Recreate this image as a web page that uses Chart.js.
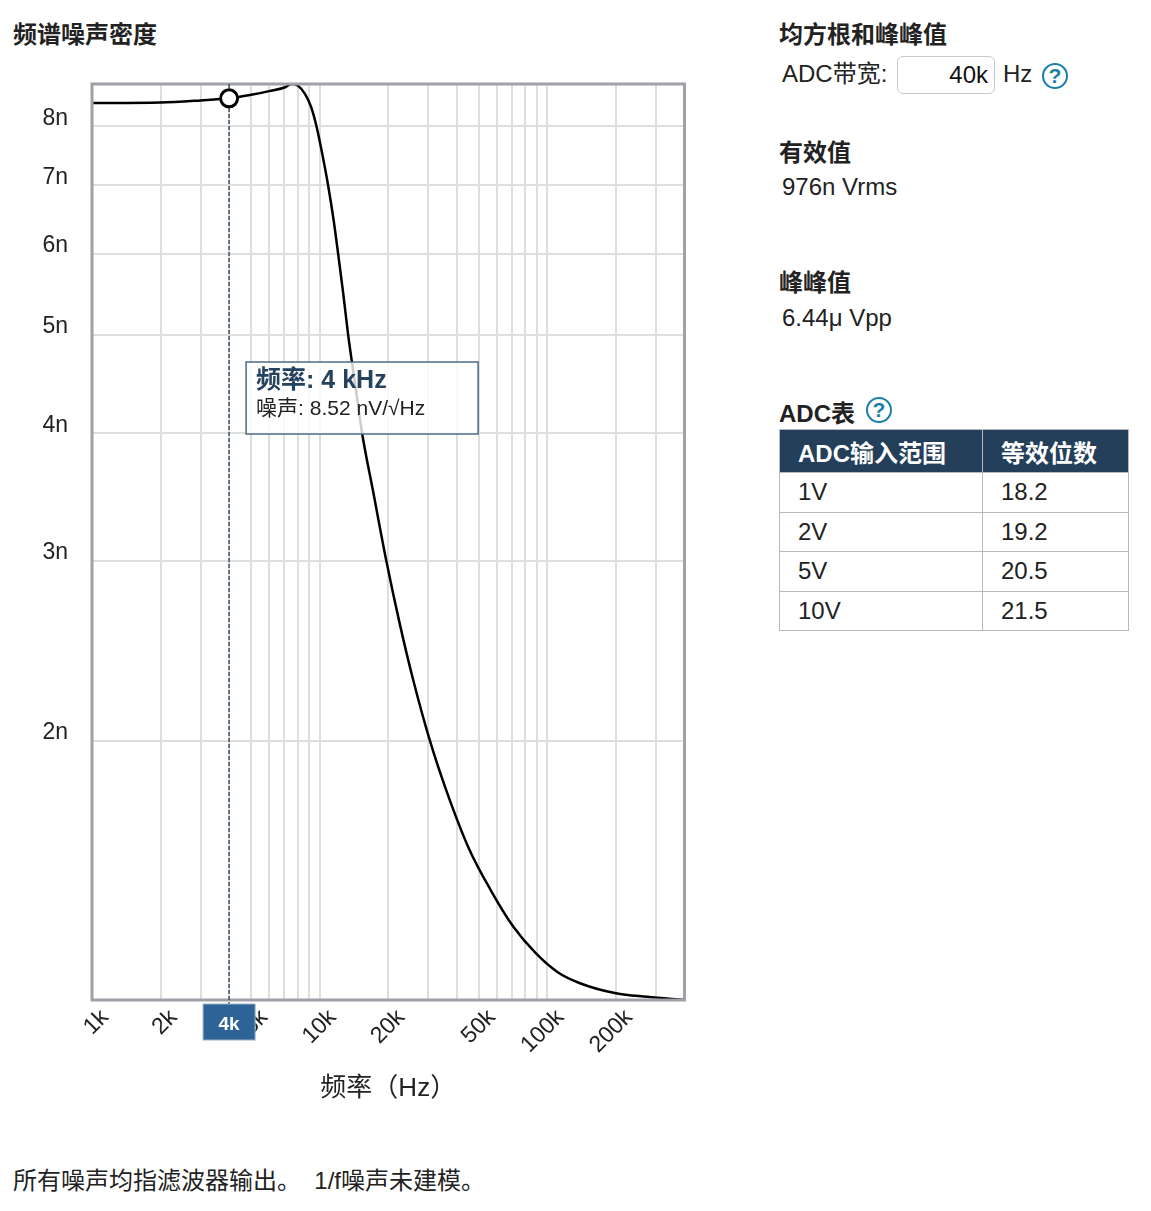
<!DOCTYPE html>
<html lang="zh-CN">
<head>
<meta charset="utf-8">
<title>频谱噪声密度</title>
<script src="https://cdn.jsdelivr.net/npm/chart.js@4.4.1/dist/chart.umd.min.js"></script>
<style>
  body { margin: 0; background: #fff; color: #222; font-family: "Liberation Sans", Arial, "Noto Sans CJK SC", sans-serif; }
  .page { position: relative; width: 1151px; height: 1211px; overflow: hidden; }
  .t { position: absolute; font-size: 24px; line-height: 28px; white-space: nowrap; }
  .b { font-weight: bold; }
  #chartBox { position: absolute; left: 0; top: 0; width: 708px; height: 1120px; }
  .help { position: absolute; width: 22px; height: 22px; border: 2.5px solid #1b7fa8; border-radius: 50%;
          color: #1b7fa8; font-weight: bold; font-size: 21px; line-height: 22px; text-align: center; }
  .inp { position: absolute; left: 897px; top: 56px; width: 90px; height: 36px; border: 1px solid #c9c9c9;
         border-radius: 6px; font-size: 24px; line-height: 36px; text-align: right; padding-right: 6px; color: #111; }
  table { position: absolute; left: 779px; top: 429px; border-collapse: collapse; font-size: 24px; }
  th { background: #243f59; color: #fff; text-align: left; height: 42px; padding: 0 0 0 18px; border: 1px solid #b9b9b9; }
  td { height: 38.5px; padding: 0 0 0 18px; border: 1px solid #b9b9b9; }
</style>
</head>
<body>
<div class="page">
  <div class="t b" style="left:13px; top:21px;">频谱噪声密度</div>
  <div id="chartBox"><canvas id="noiseChart"></canvas></div>

  <div class="t b" style="left:779px; top:21px;">均方根和峰峰值</div>
  <div class="t" style="left:782px; top:60px;">ADC带宽:</div>
  <div class="inp">40k</div>
  <div class="t" style="left:1003px; top:60px;">Hz</div>
  <div class="help" style="left:1042px; top:63px;">?</div>

  <div class="t b" style="left:779px; top:139px;">有效值</div>
  <div class="t" style="left:782px; top:173px;">976n Vrms</div>

  <div class="t b" style="left:779px; top:269px;">峰峰值</div>
  <div class="t" style="left:782px; top:304px;">6.44μ Vpp</div>

  <div class="t b" style="left:779px; top:400px;">ADC表</div>
  <div class="help" style="left:866px; top:397px;">?</div>
  <table>
    <tr><th style="width:184px">ADC输入范围</th><th style="width:127px">等效位数</th></tr>
    <tr><td>1V</td><td>18.2</td></tr>
    <tr><td>2V</td><td>19.2</td></tr>
    <tr><td>5V</td><td>20.5</td></tr>
    <tr><td>10V</td><td>21.5</td></tr>
  </table>

  <div class="t" style="left:13px; top:1167px;">所有噪声均指滤波器输出。&nbsp; 1/f噪声未建模。</div>
</div>

<script>
// données (fréquence en Hz, bruit en nV/√Hz)
const freqHz = [1000, 2000, 3000, 4000, 5000, 6000, 7000, 7500, 8000, 8600, 9140, 9680,
  10270, 10890, 11480, 12050, 12670, 13330, 14270, 15360, 17120, 19620, 22500, 25660,
  30480, 36000, 45100, 56500, 70900, 88900, 111000, 139000, 200000, 274000, 400000];
const noiseNv = [8.43, 8.44, 8.48, 8.52, 8.59, 8.66, 8.73, 8.80, 8.77, 8.61, 8.37, 8.0,
  7.51, 7.0, 6.50, 6.0, 5.50, 5.0, 4.49, 4.0, 3.52, 3.0, 2.60, 2.30,
  2.0, 1.787, 1.57, 1.426, 1.314, 1.238, 1.186, 1.157, 1.131, 1.122, 1.114];

const xGridHz = [1000, 2000, 3000, 4000, 5000, 6000, 7000, 8000, 9000,
  10000, 20000, 30000, 40000, 50000, 60000, 70000, 80000, 90000,
  100000, 200000, 300000, 400000];
const xTickHz = [1000, 2000, 5000, 10000, 20000, 50000, 100000, 200000];
const xTickText = ["1k", "2k", "5k", "10k", "20k", "50k", "100k", "200k"];
const yTickNv = [2, 3, 4, 5, 6, 7, 8];
const yTickText = ["2n", "3n", "4n", "5n", "6n", "7n", "8n"];

const cursorHz = 4000;
const cursorText = "4k";

const FONT = '"Liberation Sans", Arial, "Noto Sans CJK SC", sans-serif';

// cadre, curseur et infobulle
const overlay = {
    id: "overlay",
    afterDraw(chart) {
        const ctx = chart.ctx;
        const a = chart.chartArea;
        const xs = chart.scales.x, ys = chart.scales.y;
        const val = noiseNv[freqHz.indexOf(cursorHz)];
        const px = xs.getPixelForValue(cursorHz);
        const py = ys.getPixelForValue(val);

        ctx.save();
        ctx.strokeStyle = "#a0a0a8";
        ctx.lineWidth = 3;
        ctx.strokeRect(a.left, a.top, a.right - a.left, a.bottom - a.top);

        // ligne verticale pointillée
        ctx.strokeStyle = "#1e3d5c";
        ctx.lineWidth = 1.3;
        ctx.setLineDash([4, 2]);
        ctx.beginPath();
        ctx.moveTo(px, a.top);
        ctx.lineTo(px, a.bottom + 4);
        ctx.stroke();
        ctx.setLineDash([]);

        // point
        ctx.beginPath();
        ctx.arc(px, py, 8.5, 0, Math.PI * 2);
        ctx.fillStyle = "#fff";
        ctx.fill();
        ctx.strokeStyle = "#000";
        ctx.lineWidth = 3;
        ctx.stroke();

        // infobulle
        const bx = px + 17, by = a.top + 278, bw = 232, bh = 72;
        ctx.fillStyle = "rgba(255,255,255,0.8)";
        ctx.fillRect(bx, by, bw, bh);
        ctx.strokeStyle = "#4d6b86";
        ctx.lineWidth = 1.5;
        ctx.strokeRect(bx, by, bw, bh);
        ctx.textAlign = "left";
        ctx.textBaseline = "middle";
        ctx.fillStyle = "#24435e";
        ctx.font = "bold 25px " + FONT;
        ctx.fillText("频率: " + (cursorHz / 1000) + " kHz", bx + 10, by + 19);
        ctx.fillStyle = "#222";
        ctx.font = "21px " + FONT;
        ctx.fillText("噪声: " + val.toFixed(2) + " nV/√Hz", bx + 10, by + 47);

        // étiquette sur l'axe x
        ctx.fillStyle = "#2d6397";
        ctx.fillRect(px - 26, a.bottom + 4, 52, 36);
        ctx.strokeStyle = "#9bb0c4";
        ctx.lineWidth = 1;
        ctx.strokeRect(px - 26, a.bottom + 4, 52, 36);
        ctx.fillStyle = "#fff";
        ctx.font = "bold 19px " + FONT;
        ctx.textAlign = "center";
        ctx.fillText(cursorText, px, a.bottom + 25);
        ctx.restore();
    }
};

document.addEventListener("DOMContentLoaded", () => {
    const ctx = document.getElementById("noiseChart").getContext("2d");
    const points = freqHz.map((f, i) => ({ x: f, y: noiseNv[i] }));

    new Chart(ctx, {
        type: "line",
        data: {
            datasets: [{
                data: points,
                borderColor: "#000",
                borderWidth: 2.5,
                pointRadius: 0,
                cubicInterpolationMode: "monotone",
                fill: false
            }]
        },
        options: {
            responsive: true,
            maintainAspectRatio: false,
            animation: false,
            events: [],
            layout: { padding: { left: 0, right: 15, top: 84, bottom: 0 } },
            plugins: { legend: { display: false }, tooltip: { enabled: false } },
            scales: {
                x: {
                    type: "logarithmic",
                    min: freqHz[0],
                    max: freqHz[freqHz.length - 1],
                    afterBuildTicks: s => { s.ticks = xGridHz.map(v => ({ value: v })); },
                    afterFit: s => { s.height = 120; },
                    ticks: {
                        autoSkip: false,
                        minRotation: 45,
                        maxRotation: 45,
                        padding: 4,
                        labelOffset: 13,
                        color: "#222",
                        font: { size: 23, family: FONT },
                        callback: v => {
                            const i = xTickHz.indexOf(v);
                            return i < 0 ? "" : xTickText[i];
                        }
                    },
                    grid: { color: "#dedede", lineWidth: 2, drawTicks: false },
                    border: { display: false },
                    title: {
                        display: true,
                        text: "频率（Hz）",
                        color: "#222",
                        font: { size: 26, family: FONT },
                        padding: { top: 0, bottom: 16 }
                    }
                },
                y: {
                    type: "logarithmic",
                    min: Math.min(...noiseNv),
                    max: Math.max(...noiseNv),
                    afterBuildTicks: s => { s.ticks = yTickNv.map(v => ({ value: v })); },
                    afterFit: s => { s.width = 92; },
                    ticks: {
                        padding: 24,
                        labelOffset: -8,
                        color: "#222",
                        font: { size: 23, family: FONT },
                        callback: v => {
                            const i = yTickNv.indexOf(v);
                            return i < 0 ? "" : yTickText[i];
                        }
                    },
                    grid: { color: "#dedede", lineWidth: 2, drawTicks: false },
                    border: { display: false }
                }
            }
        },
        plugins: [overlay]
    });
});
</script>
</body>
</html>
